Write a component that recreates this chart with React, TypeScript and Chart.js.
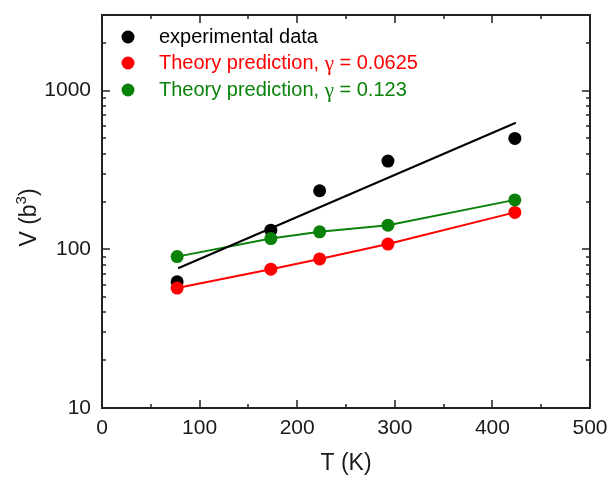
import React, { useEffect, useRef } from "react";
import { Chart, registerables } from "chart.js";

Chart.register(...registerables);

// Temperatures (K) of the measurements
const temperatures = [77, 173, 223, 293, 423];
// Activation volume V (b^3)
const experimentalV = [62.5, 132, 234, 360, 500];
const theoryLowGammaV = [57, 75, 87, 108, 171];
const theoryHighGammaV = [90, 117, 129, 142, 205];
// Exponential fit through the experimental data (end points)
const fitT = [78, 424];
const fitV = [76, 628];

const xTicks = [0, 100, 200, 300, 400, 500];
const yTicks = [10, 100, 1000];

const legendItems = [
  { color: "#000000", text: "experimental data", gamma: "" },
  { color: "#ff0000", text: "Theory prediction, ", gamma: "0.0625" },
  { color: "#0a820a", text: "Theory prediction, ", gamma: "0.123" },
];

const SANS = "'Liberation Sans', Arial, sans-serif";
const SERIF = "'Liberation Serif', 'DejaVu Serif', serif";
const TEXT = "#1a1a1a";

const toPoints = (xs: number[], ys: number[]) => xs.map((x, i) => ({ x, y: ys[i] }));

// Frame with inward ticks on all sides, the y-axis title and the in-plot legend
const framePlugin = {
  id: "frameAndLegend",
  afterDraw(chart: any) {
    const ctx = chart.ctx as CanvasRenderingContext2D;
    const { left, right, top, bottom } = chart.chartArea;
    const xs = chart.scales.x;
    const ys = chart.scales.y;
    ctx.save();
    ctx.strokeStyle = "#222";
    ctx.lineWidth = 2;
    ctx.strokeRect(left, top, right - left, bottom - top);

    ctx.lineWidth = 1.5;
    const major = 8;
    const minor = 4;
    // x ticks (major every 100, minor every 50)
    for (let v = 0; v <= 500; v += 50) {
      const px = Math.round(xs.getPixelForValue(v));
      const len = v % 100 === 0 ? major : minor;
      ctx.beginPath();
      ctx.moveTo(px, bottom);
      ctx.lineTo(px, bottom - len);
      ctx.moveTo(px, top);
      ctx.lineTo(px, top + len);
      ctx.stroke();
    }
    // y ticks (log decades with minor ticks 2..9)
    for (const d of [10, 100, 1000]) {
      for (let m = 1; m <= 9; m++) {
        const v = d * m;
        if (v > 3000) break;
        const py = Math.round(ys.getPixelForValue(v));
        const len = m === 1 ? major : minor;
        ctx.beginPath();
        ctx.moveTo(left, py);
        ctx.lineTo(left + len, py);
        ctx.moveTo(right, py);
        ctx.lineTo(right - len, py);
        ctx.stroke();
      }
    }

    // y-axis title with a raised exponent
    ctx.save();
    ctx.translate(30, (top + bottom) / 2 + 6);
    ctx.rotate(-Math.PI / 2);
    ctx.fillStyle = TEXT;
    ctx.textBaseline = "middle";
    ctx.textAlign = "left";
    const big = `23px ${SANS}`;
    const small = `15px ${SANS}`;
    ctx.font = big;
    const partA = "V (b";
    const partC = ")";
    const wA = ctx.measureText(partA).width;
    const wC = ctx.measureText(partC).width;
    ctx.font = small;
    const wB = ctx.measureText("3").width;
    let x = -(wA + wB + wC) / 2;
    ctx.font = big;
    ctx.fillText(partA, x, 0);
    x += wA;
    ctx.font = small;
    ctx.fillText("3", x, -8);
    x += wB;
    ctx.font = big;
    ctx.fillText(partC, x, 0);
    ctx.restore();

    // legend
    const mx = left + 26;
    const tx = left + 57;
    const rowY = [top + 22, top + 48, top + 75];
    ctx.textBaseline = "middle";
    ctx.textAlign = "left";
    legendItems.forEach((item, i) => {
      const y = rowY[i];
      ctx.fillStyle = item.color;
      ctx.beginPath();
      ctx.arc(mx, y, 6.5, 0, Math.PI * 2);
      ctx.fill();
      ctx.font = `20px ${SANS}`;
      ctx.fillText(item.text, tx, y);
      if (item.gamma) {
        let gx = tx + ctx.measureText(item.text).width;
        ctx.font = `21px ${SERIF}`;
        ctx.fillText("\u03b3", gx, y + 1);
        gx += ctx.measureText("\u03b3").width;
        ctx.font = `20px ${SANS}`;
        ctx.fillText(" = " + item.gamma, gx, y);
      }
    });
    ctx.restore();
  },
};

const noPadding = (s: any) => {
  s.paddingTop = 0;
  s.paddingBottom = 0;
  s.paddingLeft = 0;
  s.paddingRight = 0;
};

export default function App() {
  const canvasRef = useRef<HTMLCanvasElement | null>(null);

  useEffect(() => {
    if (!canvasRef.current) return;
    const chart = new Chart(canvasRef.current, {
      type: "scatter",
      data: {
        datasets: [
          {
            label: "fit",
            data: toPoints(fitT, fitV),
            showLine: true,
            borderColor: "#000000",
            borderWidth: 2,
            pointRadius: 0,
            order: 0,
          },
          {
            label: "Theory prediction, γ = 0.123",
            data: toPoints(temperatures, theoryHighGammaV),
            showLine: true,
            borderColor: "#0a820a",
            backgroundColor: "#0a820a",
            borderWidth: 2,
            pointRadius: 6.5,
            pointBorderWidth: 0,
            order: 1,
          },
          {
            label: "Theory prediction, γ = 0.0625",
            data: toPoints(temperatures, theoryLowGammaV),
            showLine: true,
            borderColor: "#ff0000",
            backgroundColor: "#ff0000",
            borderWidth: 2,
            pointRadius: 6.5,
            pointBorderWidth: 0,
            order: 2,
          },
          {
            label: "experimental data",
            data: toPoints(temperatures, experimentalV),
            showLine: false,
            borderColor: "#000000",
            backgroundColor: "#000000",
            pointRadius: 6.5,
            pointBorderWidth: 0,
            order: 3,
          },
        ],
      },
      options: {
        animation: false,
        responsive: true,
        maintainAspectRatio: false,
        layout: { padding: { top: 15, right: 19, left: 0, bottom: 0 } },
        plugins: {
          legend: { display: false },
          tooltip: { enabled: false },
        },
        scales: {
          x: {
            type: "linear",
            min: 0,
            max: 500,
            grid: { display: false, drawTicks: false },
            border: { display: false },
            afterBuildTicks: (s: any) => {
              s.ticks = xTicks.map((v) => ({ value: v }));
            },
            afterFit: (s: any) => {
              s.height = 69;
              noPadding(s);
            },
            ticks: {
              padding: 8,
              color: TEXT,
              font: { family: SANS, size: 21 },
              maxRotation: 0,
              callback: (v: any) => String(v),
            },
            title: {
              display: true,
              text: "T (K)",
              color: TEXT,
              font: { family: SANS, size: 23 },
              padding: { top: 0, bottom: 0 },
            },
          },
          y: {
            type: "logarithmic",
            min: 10,
            max: 3000,
            grid: { display: false, drawTicks: false },
            border: { display: false },
            afterBuildTicks: (s: any) => {
              s.ticks = yTicks.map((v) => ({ value: v }));
            },
            afterFit: (s: any) => {
              s.width = 102;
              noPadding(s);
            },
            ticks: {
              padding: 11,
              color: TEXT,
              font: { family: SANS, size: 21 },
              callback: (v: any) => String(v),
            },
          },
        },
      },
      plugins: [framePlugin],
    });
    return () => chart.destroy();
  }, []);

  return (
    <div style={{ position: "absolute", left: 0, top: 0, width: 609, height: 477, background: "#fff" }}>
      <canvas ref={canvasRef} />
    </div>
  );
}
